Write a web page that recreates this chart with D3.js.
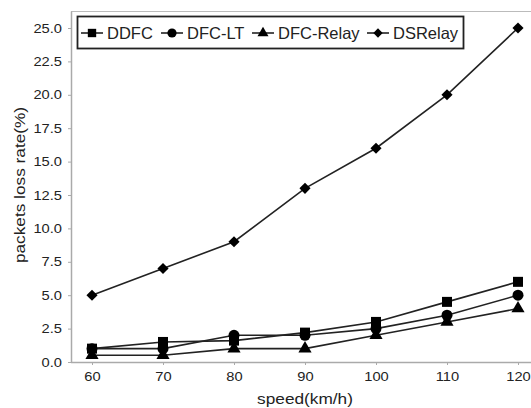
<!DOCTYPE html>
<html>
<head>
<meta charset="utf-8">
<script src="https://cdn.jsdelivr.net/npm/d3@7"></script>
<style>
  body { margin: 0; background: #fff; }
  text { font-family: "Liberation Sans", Arial, sans-serif; fill: #222; }
</style>
</head>
<body>
<div id="chart"></div>
<script>
// chart data
const speeds = [60, 70, 80, 90, 100, 110, 120];
const seriesNames = ["DDFC", "DFC-LT", "DFC-Relay", "DSRelay"];
const ddfc = [1.0, 1.5, 1.6, 2.2, 3.0, 4.5, 6.0];
const dfcLt = [1.0, 1.0, 2.0, 2.0, 2.5, 3.5, 5.0];
const dfcRelay = [0.5, 0.5, 1.0, 1.0, 2.0, 3.0, 4.0];
const dsRelay = [5.0, 7.0, 9.0, 13.0, 16.0, 20.0, 25.0];
const yTicks = [0, 2.5, 5, 7.5, 10, 12.5, 15, 17.5, 20, 22.5, 25];

const series = [
  { name: seriesNames[0], values: ddfc, symbol: d3.symbolSquare, size: 100, rot: 0 },
  { name: seriesNames[1], values: dfcLt, symbol: d3.symbolCircle, size: 95, rot: 0 },
  { name: seriesNames[2], values: dfcRelay, symbol: d3.symbolTriangle, size: 75, rot: 0 },
  { name: seriesNames[3], values: dsRelay, symbol: d3.symbolSquare, size: 62, rot: 45 }
];

const width = 531, height = 408;
const sx = 1.13; // the reference text is a bit wider than tall

const svg = d3.select("#chart").append("svg")
    .attr("width", width)
    .attr("height", height);

const x = d3.scaleLinear().domain([60, 120]).range([92, 518]);
const y = d3.scaleLinear().domain([0, 25]).range([362, 28]);

// top frame line
svg.append("line").attr("x1", 71).attr("x2", width).attr("y1", 11.5).attr("y2", 11.5)
    .style("stroke", "#bbb").style("stroke-width", 1);

// y axis
const yAxis = svg.append("g")
    .attr("transform", "translate(71,0)")
    .call(d3.axisLeft(y).tickValues(yTicks).tickFormat(d3.format(".1f")).tickSize(3).tickPadding(0));
yAxis.select(".domain").attr("d", "M0.5,11.5V362.5").style("stroke", "#aaa").style("stroke-width", 1.5);
yAxis.selectAll(".tick line").style("stroke", "#aaa");
yAxis.selectAll(".tick text")
    .attr("x", null)
    .attr("transform", "translate(-9,0) scale(" + sx + ",1)")
    .style("font-size", "13px").style("fill", "#222");

// x axis
const xAxis = svg.append("g")
    .attr("transform", "translate(0,362)")
    .call(d3.axisBottom(x).tickValues(speeds).tickSize(3).tickPadding(7));
xAxis.select(".domain").attr("d", "M71,0.5H" + width).style("stroke", "#aaa").style("stroke-width", 1.5);
xAxis.selectAll(".tick line").style("stroke", "#aaa");
xAxis.selectAll(".tick text")
    .attr("transform", "scale(" + sx + ",1)")
    .attr("x", 0)
    .style("font-size", "13px").style("fill", "#222");
xAxis.selectAll(".tick").each(function(d) {
  d3.select(this).select("text").attr("transform", "scale(" + sx + ",1)");
});

// axis titles
svg.append("text")
    .attr("transform", "translate(305,404) scale(1.15,1)")
    .attr("text-anchor", "middle")
    .style("font-size", "15px")
    .text("speed(km/h)");

svg.append("text")
    .attr("transform", "translate(25,185) rotate(-90) scale(1.15,1)")
    .attr("text-anchor", "middle")
    .style("font-size", "15px")
    .text("packets loss rate(%)");

// lines + markers
const line = d3.line()
    .x((d, i) => x(speeds[i]))
    .y(d => y(d));

series.forEach(s => {
  svg.append("path")
      .datum(s.values)
      .attr("d", line)
      .style("fill", "none")
      .style("stroke", "#222")
      .style("stroke-width", 1.6);

  svg.selectAll(null)
      .data(s.values)
      .enter().append("path")
      .attr("transform", (d, i) => "translate(" + x(speeds[i]) + "," + y(d) + ") rotate(" + s.rot + ")")
      .attr("d", d3.symbol().type(s.symbol).size(s.size))
      .style("fill", "#000");
});

// legend
const legend = svg.append("g");
legend.append("rect")
    .attr("x", 77.5).attr("y", 16.5)
    .attr("width", 386).attr("height", 32)
    .style("fill", "#fff")
    .style("stroke", "#222")
    .style("stroke-width", 1.8);

const legendX = [81, 161, 252, 367];
series.forEach((s, i) => {
  const g = legend.append("g").attr("transform", "translate(" + legendX[i] + ",33)");
  g.append("line").attr("x1", 0).attr("x2", 22).attr("y1", 0).attr("y2", 0)
      .style("stroke", "#222").style("stroke-width", 1.6);
  g.append("path").attr("transform", "translate(11,0) rotate(" + s.rot + ")")
      .attr("d", d3.symbol().type(s.symbol).size(s.size * 0.7))
      .style("fill", "#000");
  g.append("text").attr("x", 26).attr("y", 6)
      .style("font-size", "16.5px")
      .text(s.name);
});
</script>
</body>
</html>
